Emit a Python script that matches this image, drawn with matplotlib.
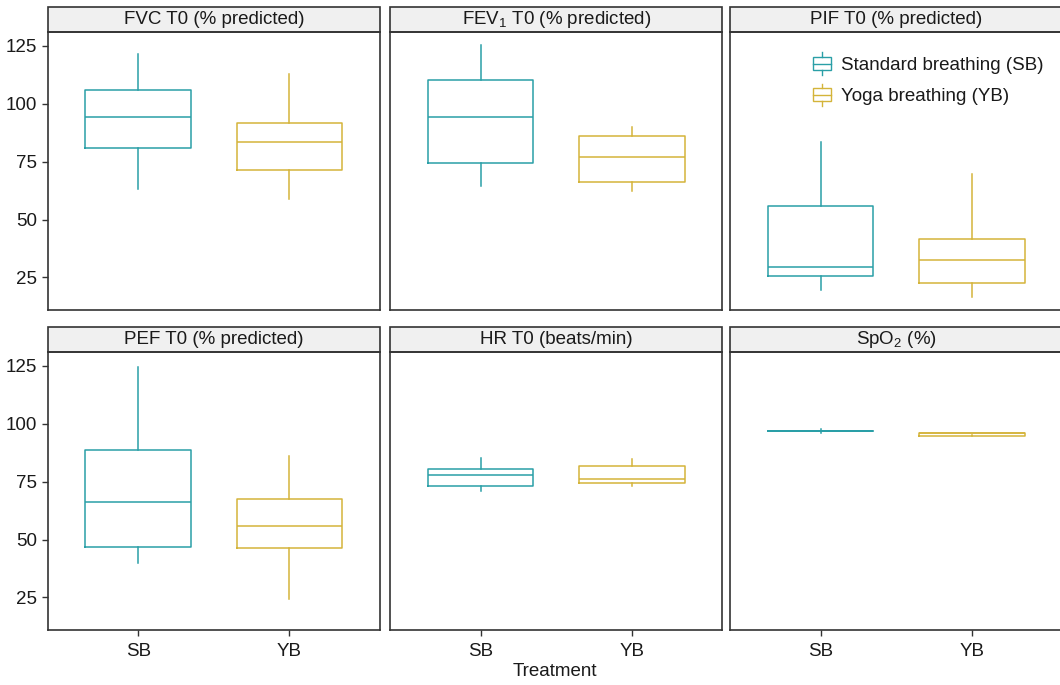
import matplotlib
matplotlib.use("Agg")
import matplotlib.pyplot as plt
from matplotlib.patches import Rectangle
from matplotlib.lines import Line2D
from matplotlib.legend_handler import HandlerBase

plt.rcParams['font.family'] = ['Liberation Sans', 'DejaVu Sans']
plt.rcParams['mathtext.fontset'] = 'custom'
plt.rcParams['mathtext.rm'] = 'Liberation Sans'

# panel titles
panels = ['FVC T0 (% predicted)', r'FEV$_\mathregular{1}$ T0 (% predicted)', 'PIF T0 (% predicted)',
          'PEF T0 (% predicted)', 'HR T0 (beats/min)', r'SpO$_\mathregular{2}$ (%)']
groups = ['SB', 'YB']

# box stats per panel: whisker low, Q1, median, Q3, whisker high
sb_lo  = [63.0, 64.5, 19.5, 40.0, 71.1, 96.2]
sb_q1  = [80.9, 74.6, 25.6, 46.9, 73.3, 97.0]
sb_med = [94.2, 94.2, 29.6, 66.1, 77.7, 97.0]
sb_q3  = [106.0, 110.2, 56.0, 88.7, 80.6, 97.0]
sb_hi  = [121.4, 125.4, 83.4, 124.7, 85.4, 97.8]

yb_lo  = [58.7, 62.4, 16.5, 24.1, 73.1, 95.0]
yb_q1  = [71.4, 66.2, 22.4, 46.5, 74.5, 94.6]
yb_med = [83.5, 77.0, 32.5, 55.8, 76.0, 96.0]
yb_q3  = [91.6, 86.2, 41.7, 67.5, 81.7, 96.0]
yb_hi  = [112.9, 90.0, 69.5, 86.2, 84.7, 96.0]

colors = ['#2A9FA7', '#D4B43A']
legend_labels = ['Standard breathing (SB)', 'Yoga breathing (YB)']

W, H = 1060, 685
fig = plt.figure(figsize=(W / 100, H / 100), dpi=100)

lefts = [47.7, 390, 730]
tops = [32.3, 352.3]
pw, ph = 332.3, 277.7
strip_h = 25.6
fs = 13.5


class BoxHandler(HandlerBase):
    def create_artists(self, legend, orig, xd, yd, width, height, fontsize, trans):
        c = orig.get_color()
        arts = [Rectangle((xd, yd), width, height, fill=False, edgecolor=c, lw=1.0, transform=trans),
                Line2D([xd, xd + width], [yd + height / 2] * 2, color=c, lw=1.0, transform=trans),
                Line2D([xd + width / 2] * 2, [yd + height, yd + height * 1.35], color=c, lw=1.0, transform=trans),
                Line2D([xd + width / 2] * 2, [yd, yd - height * 0.35], color=c, lw=1.0, transform=trans)]
        return arts


axes = []
for i, title in enumerate(panels):
    r, c = divmod(i, 3)
    x0, y0 = lefts[c], tops[r]
    ax = fig.add_axes([x0 / W, 1 - (y0 + ph) / H, pw / W, ph / H])
    axes.append(ax)
    stats = [
        dict(whislo=sb_lo[i], q1=sb_q1[i], med=sb_med[i], q3=sb_q3[i], whishi=sb_hi[i], fliers=[]),
        dict(whislo=yb_lo[i], q1=yb_q1[i], med=yb_med[i], q3=yb_q3[i], whishi=yb_hi[i], fliers=[]),
    ]
    for k, st in enumerate(stats):
        col = colors[k]
        ax.bxp([st], positions=[k + 1], widths=0.7, showcaps=False, showfliers=False,
               boxprops=dict(color=col, lw=1.1),
               whiskerprops=dict(color=col, lw=1.1),
               medianprops=dict(color=col, lw=1.1))
    ax.set_xlim(0.4, 2.6)
    ax.set_ylim(10.9, 130.9)
    ax.set_yticks([25, 50, 75, 100, 125])
    ax.set_xticks([1, 2])
    ax.tick_params(colors='#333333', labelcolor='#1a1a1a', labelsize=fs, length=4, width=1)
    ax.tick_params(axis='x', pad=5)
    if c == 0:
        ax.set_yticklabels(['25', '50', '75', '100', '125'])
    else:
        ax.tick_params(axis='y', left=False, labelleft=False)
    if r == 1:
        ax.set_xticklabels(groups)
    else:
        ax.tick_params(axis='x', bottom=False, labelbottom=False)
    for s in ax.spines.values():
        s.set_color('#333333')
        s.set_linewidth(1.2)
    sh = strip_h / ph
    ax.add_patch(Rectangle((0, 1), 1, sh, transform=ax.transAxes, clip_on=False,
                           facecolor='#F0F0F0', edgecolor='#333333', lw=1.2))
    ax.text(0.5, 1 + sh / 2, title, transform=ax.transAxes, ha='center', va='center',
            fontsize=fs, color='#1a1a1a')

handles = [Line2D([], [], color=col) for col in colors]
axes[2].legend(handles, legend_labels, handler_map={Line2D: BoxHandler()},
               loc='upper right', bbox_to_anchor=(0.995, 0.972), frameon=False,
               fontsize=fs, handlelength=0.95, handleheight=0.7, handletextpad=0.55,
               labelspacing=0.75, labelcolor='#1a1a1a')

fig.text(555 / W, 1 - 672 / H, 'Treatment', ha='center', va='center', fontsize=fs, color='#1a1a1a')

fig.savefig('out.png', dpi=100)
